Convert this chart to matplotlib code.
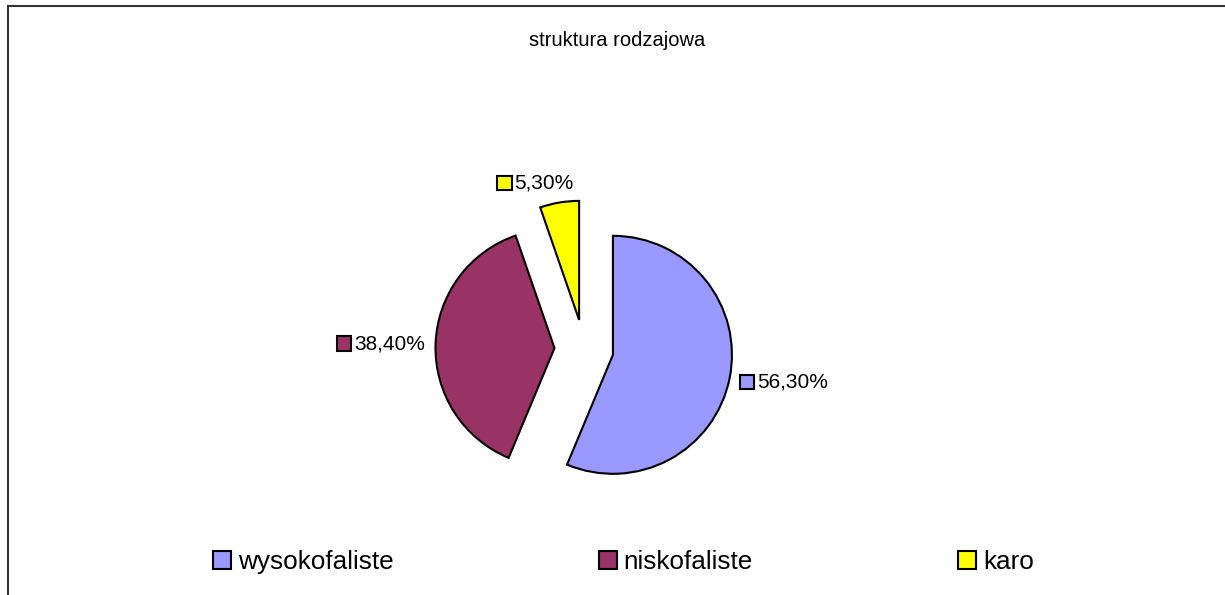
import numpy as np
from matplotlib import pyplot as plt
from matplotlib.lines import Line2D
from matplotlib.patches import Rectangle
from matplotlib.offsetbox import AnnotationBbox, HPacker, DrawingArea, TextArea

plt.rcParams['font.family'] = ['Liberation Sans', 'DejaVu Sans']

title = 'struktura rodzajowa'
categories = ['wysokofaliste', 'niskofaliste', 'karo']
shares = [56.3, 38.4, 5.3]
labels = ['56,30%', '38,40%', '5,30%']
colors = ['#9999FF', '#993366', '#FFFF00']


def label_box(text, color):
    da = DrawingArea(10.5, 10.5, 0, 0)
    da.add_artist(Rectangle((0, 0), 10.5, 10.5, facecolor=color,
                            edgecolor='black', linewidth=1.5))
    ta = TextArea(text, textprops=dict(fontsize=15, color='black'))
    return HPacker(children=[da, ta], pad=0, sep=2, align='center')


fig = plt.figure(figsize=(12.25, 5.95), dpi=100)
ax = fig.add_axes([0, 0, 1, 1])

radius = 119
center = (584, 246)
# pie explode is in data units, so scale by the radius
wedges, _ = ax.pie(shares, explode=[0.248 * radius] * 3, startangle=90,
                   counterclock=False, colors=colors, radius=radius, center=center,
                   wedgeprops=dict(edgecolor='black', linewidth=1.5))
ax.set_xlim(0, 1225)
ax.set_ylim(0, 595)
ax.axis('off')

# data labels with small colour keys, placed outside each slice
for w, text, color in zip(wedges, labels, colors):
    mid = np.deg2rad((w.theta1 + w.theta2) / 2)
    c, s = np.cos(mid), np.sin(mid)
    xy = (center[0] + 1.336 * radius * c, center[1] + 1.336 * radius * s)
    xa = 0.5 - 0.5 * np.sign(c) * abs(c) ** 0.3
    ya = 0.5 - 0.5 * s
    ab = AnnotationBbox(label_box(text, color), xy, xycoords='data',
                        box_alignment=(xa, ya), frameon=False, pad=0)
    ax.add_artist(ab)

fig.text(0.504, 0.9227, title, ha='center', va='baseline', fontsize=14.5)

handles = [Rectangle((0, 0), 1, 1, facecolor=col, edgecolor='black', linewidth=1.5)
           for col in colors]
fig.legend(handles, categories, loc='center', bbox_to_anchor=(0.509, 0.0555),
           ncol=3, frameon=False, fontsize=18.8, columnspacing=7.86,
           handlelength=0.69, handleheight=0.69, handletextpad=0.27, borderpad=0)

# chart area border (top and left edges visible)
fig.add_artist(Line2D([8 / 1225, 1.0], [1 - 6 / 595, 1 - 6 / 595],
                      transform=fig.transFigure, color='#333333', linewidth=1.5))
fig.add_artist(Line2D([8 / 1225, 8 / 1225], [0.0, 1 - 6 / 595],
                      transform=fig.transFigure, color='#333333', linewidth=1.5))

fig.savefig('out.png', dpi=100)
